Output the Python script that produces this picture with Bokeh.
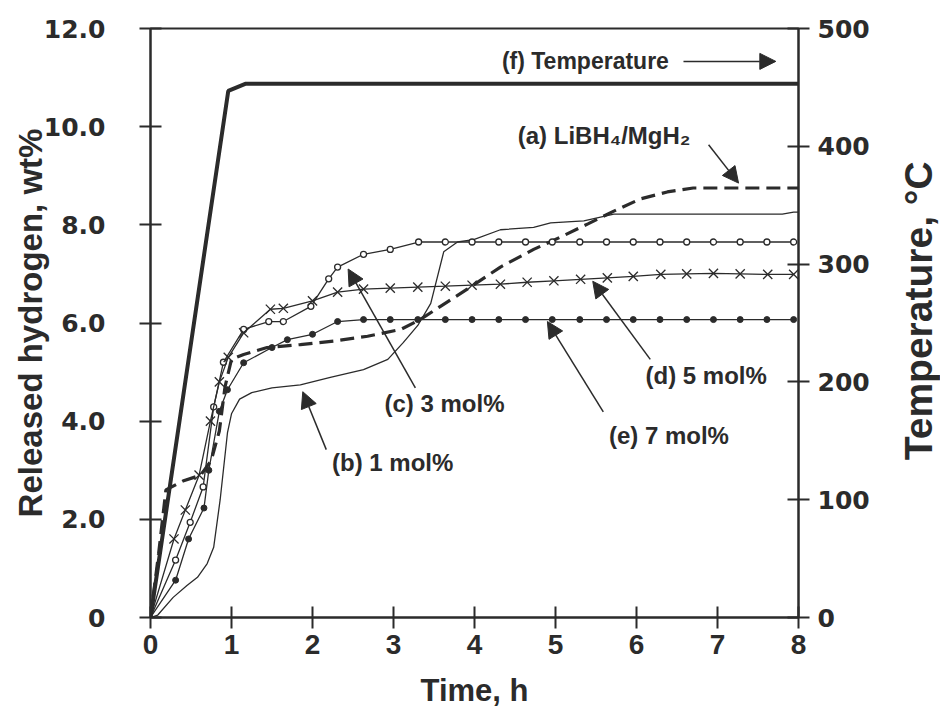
import math
from bokeh.plotting import figure
from bokeh.layouts import row
from bokeh.models import (Range1d, LinearAxis, FixedTicker, Label, Arrow, NormalHead)
from bokeh.embed import file_html
from bokeh.resources import INLINE

# ---------------- data ----------------
x_ticks = [0, 1, 2, 3, 4, 5, 6, 7, 8]
y_ticks = [0, 2, 4, 6, 8, 10, 12]
y_tick_labels = ["0", "2.0", "4.0", "6.0", "8.0", "10.0", "12.0"]
temp_ticks = [0, 100, 200, 300, 400, 500]

# (f) temperature, degC
f_t = [0, 0.96, 1.17, 8.0]
f_T = [0, 447, 453, 453]

# (a) LiBH4/MgH2
a_t = [0, 0.1, 0.19, 0.4, 0.62, 0.75, 0.85, 0.92, 1.0, 1.15, 1.44, 1.85, 2.3, 2.68,
       3.09, 3.33, 3.58, 3.91, 4.32, 4.73, 5.06, 5.4, 5.72, 6.05, 6.38, 6.7, 8.0]
a_w = [0, 1.3, 2.6, 2.78, 2.9, 3.2, 3.8, 4.7, 5.26, 5.36, 5.5, 5.56, 5.64, 5.73,
       5.87, 6.07, 6.34, 6.69, 7.14, 7.5, 7.75, 8.02, 8.28, 8.53, 8.67, 8.75, 8.75]

# (b) 1 mol%
b_t = [0, 0.09, 0.28, 0.45, 0.58, 0.7, 0.78, 0.86, 0.95, 1.0, 1.1, 1.25, 1.5, 1.85,
       2.22, 2.63, 2.93, 3.12, 3.3, 3.46, 3.62, 3.79, 3.99, 4.32, 4.73, 4.94, 5.35,
       5.72, 7.8, 7.94, 8.0]
b_w = [0, 0.05, 0.41, 0.65, 0.82, 1.1, 1.43, 2.4, 3.76, 4.15, 4.45, 4.58, 4.68, 4.74,
       4.89, 5.05, 5.26, 5.6, 5.95, 6.4, 7.45, 7.65, 7.7, 7.9, 7.95, 8.04, 8.08,
       8.22, 8.22, 8.26, 8.26]

# (c) 3 mol%
c_t = [0, 0.31, 0.49, 0.65, 0.78, 0.9, 1.15, 1.46, 1.64, 1.98, 2.2, 2.31, 2.63, 2.96,
       3.31, 3.64, 3.97, 4.3, 4.63, 4.96, 5.3, 5.63, 5.96, 6.29, 6.62, 6.95, 7.28,
       7.61, 7.94]
c_w = [0, 1.17, 1.94, 2.66, 4.29, 5.2, 5.87, 6.03, 6.03, 6.34, 6.9, 7.14, 7.4, 7.5,
       7.65, 7.65, 7.65, 7.65, 7.65, 7.65, 7.65, 7.65, 7.65, 7.65, 7.65, 7.65, 7.65,
       7.65, 7.65]

# (d) 5 mol%
d_t = [0, 0.29, 0.43, 0.6, 0.74, 0.85, 0.96, 1.15, 1.48, 1.64, 2.0, 2.31, 2.63, 2.96,
       3.3, 3.64, 3.97, 4.32, 4.65, 4.98, 5.31, 5.64, 5.96, 6.3, 6.62, 6.95, 7.28,
       7.62, 7.94]
d_w = [0, 1.6, 2.19, 2.9, 4.0, 4.8, 5.3, 5.8, 6.28, 6.3, 6.45, 6.63, 6.69, 6.71,
       6.73, 6.75, 6.77, 6.79, 6.83, 6.86, 6.89, 6.92, 6.95, 6.99, 7.0, 7.01, 7.0,
       6.99, 6.99]

# (e) 7 mol%
e_t = [0, 0.31, 0.47, 0.66, 0.72, 0.85, 0.95, 1.15, 1.5, 1.69, 2.0, 2.31, 2.63, 2.96,
       3.3, 3.64, 3.97, 4.3, 4.63, 4.96, 5.3, 5.63, 5.96, 6.29, 6.62, 6.95, 7.28,
       7.61, 7.94]
e_w = [0, 0.76, 1.6, 2.23, 3.0, 4.2, 4.64, 5.19, 5.5, 5.66, 5.77, 6.03, 6.07, 6.07,
       6.07, 6.07, 6.07, 6.07, 6.07, 6.07, 6.07, 6.07, 6.07, 6.07, 6.07, 6.07, 6.07,
       6.07, 6.07]

right_title = "Temperature, \u00b0C"

# ---------------- figure ----------------
INK = "#2b2b2b"
TICK_FONT = "DejaVu Sans"
TITLE_FONT = "Liberation Sans"
H = 726

p = figure(width=895, height=H, output_backend="svg", toolbar_location=None,
           x_range=Range1d(0, 8), y_range=Range1d(0, 12),
           min_border_left=150, min_border_right=97, min_border_top=28,
           min_border_bottom=109)
p.extra_y_ranges = {"temp": Range1d(0, 500)}
p.grid.visible = False
p.outline_line_color = INK
p.outline_line_width = 2
p.background_fill_color = "white"
p.border_fill_color = "white"

# x axis
xa = p.xaxis[0]
xa.ticker = FixedTicker(ticks=x_ticks)
xa.axis_label = "Time, h"
# y axis (left)
ya = p.yaxis[0]
ya.ticker = FixedTicker(ticks=y_ticks)
ya.major_label_overrides = {t: s for t, s in zip(y_ticks, y_tick_labels)}
ya.axis_label = "Released hydrogen, wt%"
# right axis
ra = LinearAxis(y_range_name="temp", ticker=FixedTicker(ticks=temp_ticks))
p.add_layout(ra, "right")

for ax in (xa, ya, ra):
    ax.axis_line_color = INK
    ax.axis_line_width = 2
    ax.major_tick_line_color = INK
    ax.major_tick_line_width = 2
    ax.major_tick_in = 11
    ax.major_tick_out = 11
    ax.minor_tick_line_color = None
    ax.major_label_text_color = INK
    ax.axis_label_text_color = INK
    ax.axis_label_text_font = TITLE_FONT
    ax.axis_label_text_font_style = "bold"

xa.major_label_text_font = TITLE_FONT
xa.major_label_text_font_style = "bold"
xa.major_label_text_font_size = "28px"
xa.major_label_standoff = 6
xa.axis_label_standoff = 16
xa.axis_label_text_font_size = "31px"

for ax in (ya, ra):
    ax.major_label_text_font = TICK_FONT
    ax.major_label_text_font_style = "bold"
    ax.major_label_text_font_size = "25px"
ya.major_label_standoff = 34
ya.axis_label_standoff = -8
ya.axis_label_text_font_size = "33px"
ra.major_label_standoff = 8

# ---------------- series ----------------
LW = 1.3
p.line(f_t, f_T, y_range_name="temp", line_color=INK, line_width=4)
p.line(a_t, a_w, line_color=INK, line_width=3.2, line_dash="14 7")
p.line(b_t, b_w, line_color=INK, line_width=LW)
p.line(c_t, c_w, line_color=INK, line_width=LW)
p.scatter(c_t[1:], c_w[1:], marker="circle", size=6, fill_color="white",
          line_color=INK, line_width=1.3)
p.line(d_t, d_w, line_color=INK, line_width=LW)
p.scatter(d_t[1:], d_w[1:], marker="x", size=13, line_color=INK, line_width=1.3)
p.line(e_t, e_w, line_color=INK, line_width=LW)
p.scatter(e_t[1:], e_w[1:], marker="circle", size=6, fill_color=INK,
          line_color=INK)

# ---------------- annotations ----------------
def lab(x, y, text, align="center", size="24px"):
    p.add_layout(Label(x=x, y=y, text=text, text_font=TITLE_FONT,
                       text_font_style="bold", text_font_size=size,
                       text_color=INK, text_align=align, text_baseline="middle"))

def arr(x0, y0, x1, y1, lw=1.5):
    p.add_layout(Arrow(x_start=x0, y_start=y0, x_end=x1, y_end=y1,
                       line_color=INK, line_width=lw,
                       end=NormalHead(size=16, fill_color=INK, line_color=INK)))

lab(6.40, 11.33, "(f) Temperature", align="right", size="23px")
arr(6.58, 11.33, 7.72, 11.33)
lab(5.60, 9.82, "(a) LiBH\u2084/MgH\u2082")
arr(6.89, 9.63, 7.26, 8.85)
lab(3.63, 4.36, "(c) 3 mol%")
arr(3.27, 4.68, 2.44, 7.10)
lab(2.99, 3.15, "(b) 1 mol%")
arr(2.17, 3.42, 1.88, 4.60)
lab(6.40, 3.70, "(e) 7 mol%")
arr(5.59, 4.19, 4.90, 6.03)
lab(6.86, 4.93, "(d) 5 mol%")
arr(6.17, 5.26, 5.46, 6.85)

# ---------------- right-hand axis title (narrow strip, reads upward) ----------------
q = figure(width=45, height=H, output_backend="svg", toolbar_location=None,
           x_range=Range1d(0, 1), y_range=Range1d(0, H),
           x_axis_type=None, y_axis_type=None,
           min_border_left=0, min_border_right=0, min_border_top=0,
           min_border_bottom=0)
q.grid.visible = False
q.outline_line_color = None
q.background_fill_color = "white"
q.border_fill_color = "white"
q.add_layout(Label(x=0.5, y=H - 348, text=right_title, angle=math.pi / 2,
                   text_font=TITLE_FONT, text_font_style="bold",
                   text_font_size="39px", text_color=INK,
                   text_align="center", text_baseline="middle"))

layout = row(p, q, spacing=0)
open("out.html", "w").write(file_html(layout, INLINE))
